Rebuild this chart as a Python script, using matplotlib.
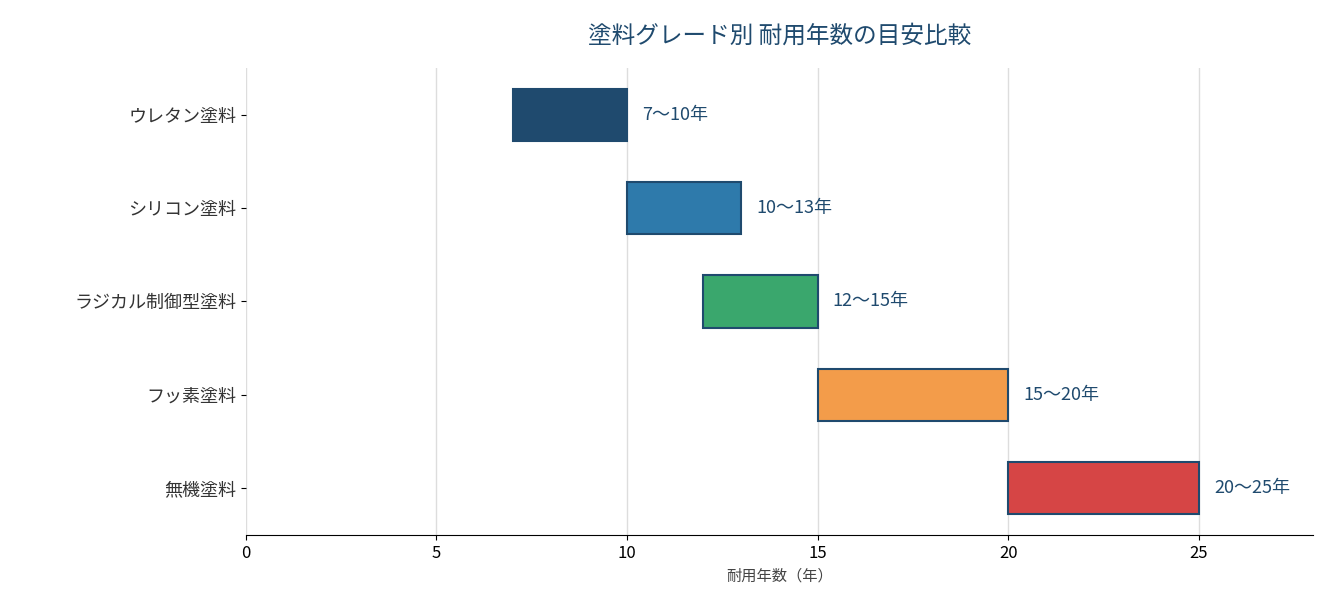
import matplotlib
matplotlib.use('Agg')
import matplotlib.pyplot as plt

plt.rcParams['font.family'] = ['Noto Sans CJK JP', 'DejaVu Sans']

# データ
grades = ['ウレタン塗料', 'シリコン塗料', 'ラジカル制御型塗料', 'フッ素塗料', '無機塗料']
start_years = [7, 10, 12, 15, 20]
end_years = [10, 13, 15, 20, 25]
bar_colors = ['#1f4a6e', '#2e7aab', '#3aa76d', '#f39c4a', '#d64545']
navy = '#1f4a6e'

fig = plt.figure(figsize=(13.33, 6.14), dpi=100)
ax = fig.add_axes([0.1845, 0.129, 0.8005, 0.76])

ypos = list(range(len(grades)))[::-1]
widths = [e - s for s, e in zip(start_years, end_years)]
ax.barh(ypos, widths, left=start_years, height=0.56, color=bar_colors,
        edgecolor=navy, linewidth=1.5, zorder=3)
for y, s, e in zip(ypos, start_years, end_years):
    ax.text(e + 0.4, y, '%d〜%d年' % (s, e), va='center', ha='left',
            fontsize=13, color=navy)

ax.set_yticks(ypos)
ax.set_yticklabels(grades, fontsize=13, color='#333333')
ax.set_xlim(0, 28)
ax.set_ylim(-0.5, 4.5)
ax.set_xticks([0, 5, 10, 15, 20, 25])
ax.tick_params(axis='x', labelsize=12)
ax.set_xlabel('耐用年数（年）', fontsize=11, color='#444444')
ax.xaxis.grid(True, color='#dddddd', linewidth=1, zorder=0)
ax.set_axisbelow(True)
for sp in ['top', 'right', 'left']:
    ax.spines[sp].set_visible(False)
ax.set_title('塗料グレード別 耐用年数の目安比較', fontsize=17, color=navy, pad=18)

fig.savefig('out.png', dpi=100)
